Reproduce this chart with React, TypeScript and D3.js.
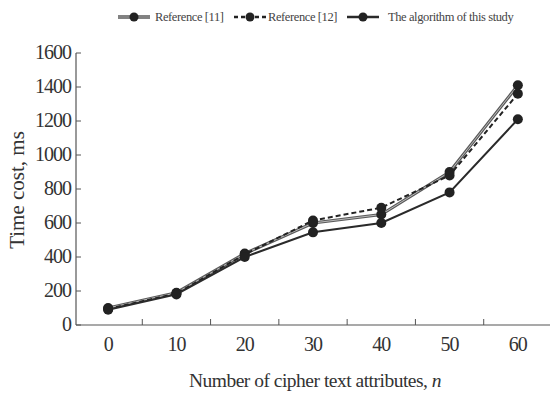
import React from "react";
import * as d3 from "d3";

const categories = ["0", "10", "20", "30", "40", "50", "60"];
const ref11 = [100, 190, 420, 600, 650, 900, 1410];
const ref12 = [95, 185, 415, 615, 690, 880, 1360];
const algo = [90, 180, 400, 545, 600, 780, 1210];
const yTicks = [0, 200, 400, 600, 800, 1000, 1200, 1400, 1600];
const seriesNames = ["Reference [11]", "Reference [12]", "The algorithm of this study"];

const W = 550, H = 394;
const FONT = "'Liberation Serif', 'Times New Roman', serif";

export default function App() {
  const x = d3.scaleBand<string>().domain(categories).range([74, 552]).padding(0);
  const y = d3.scaleLinear().domain([0, 1600]).range([325, 53]);
  const cx = (c: string) => (x(c) as number) + x.bandwidth() / 2;
  const line = d3.line<number>().x((_, i) => cx(categories[i])).y((d) => y(d));

  const series = [
    { name: seriesNames[0], data: ref11, color: "#5a5a5a", width: 3.2, dash: "", inner: true },
    { name: seriesNames[1], data: ref12, color: "#222", width: 2, dash: "5,3", inner: false },
    { name: seriesNames[2], data: algo, color: "#2a2a2a", width: 2, dash: "", inner: false },
  ];

  const legendItems = [
    { sx: 118, tx: 155 },
    { sx: 234, tx: 268 },
    { sx: 347, tx: 388 },
  ];

  return (
    <svg width={W} height={H} style={{ position: "absolute", left: 0, top: 0, background: "#fff" }}>
      <rect width={W} height={H} fill="#fff" />
      {series.map((s, i) => {
        const li = legendItems[i];
        return (
          <g key={"lg" + i}>
            <line x1={li.sx} x2={li.sx + 32} y1={17} y2={17} stroke={s.color} strokeWidth={s.inner ? 3.5 : 2.5} strokeDasharray={s.dash ? "4,3" : undefined} />
            {s.inner && <line x1={li.sx} x2={li.sx + 32} y1={17} y2={17} stroke="#aaa" strokeWidth={1} />}
            <circle cx={li.sx + 16} cy={17} r={4.5} fill="#222" />
            <text x={li.tx} y={21} fontFamily={FONT} fontSize={12.5} fill="#444" letterSpacing={-0.4}>{s.name}</text>
          </g>
        );
      })}
      <line x1={76} x2={76} y1={53} y2={325} stroke="#555" strokeWidth={1.2} />
      <line x1={76} x2={550} y1={325} y2={325} stroke="#555" strokeWidth={1.2} />
      {yTicks.map((t) => (
        <g key={"yt" + t}>
          <line x1={76} x2={81} y1={y(t)} y2={y(t)} stroke="#555" strokeWidth={1} />
          <text x={71} y={y(t) + 6} textAnchor="end" fontFamily={FONT} fontSize={20} fill="#333" letterSpacing={-1}>{t}</text>
        </g>
      ))}
      {categories.slice(1).map((c) => (
        <line key={"xt" + c} x1={x(c) as number} x2={x(c) as number} y1={325} y2={319} stroke="#555" strokeWidth={1} />
      ))}
      {categories.map((c) => (
        <text key={"xl" + c} x={cx(c)} y={351} textAnchor="middle" fontFamily={FONT} fontSize={20} fill="#333" letterSpacing={-1}>{c}</text>
      ))}
      <text transform={`translate(24,190) rotate(-90)`} textAnchor="middle" fontFamily={FONT} fontSize={21} fill="#333">Time cost, ms</text>
      <text x={315} y={387} textAnchor="middle" fontFamily={FONT} fontSize={19.5} fill="#333" letterSpacing={-0.5}>
        Number of cipher text attributes, <tspan fontStyle="italic">n</tspan>
      </text>
      {series.map((s, i) => (
        <g key={"s" + i}>
          <path d={line(s.data) || ""} fill="none" stroke={s.color} strokeWidth={s.width} strokeDasharray={s.dash || undefined} />
          {s.inner && <path d={line(s.data) || ""} fill="none" stroke="#bbb" strokeWidth={1} />}
          {s.data.map((v, j) => (
            <circle key={j} cx={cx(categories[j])} cy={y(v)} r={5} fill="#222" />
          ))}
        </g>
      ))}
    </svg>
  );
}
